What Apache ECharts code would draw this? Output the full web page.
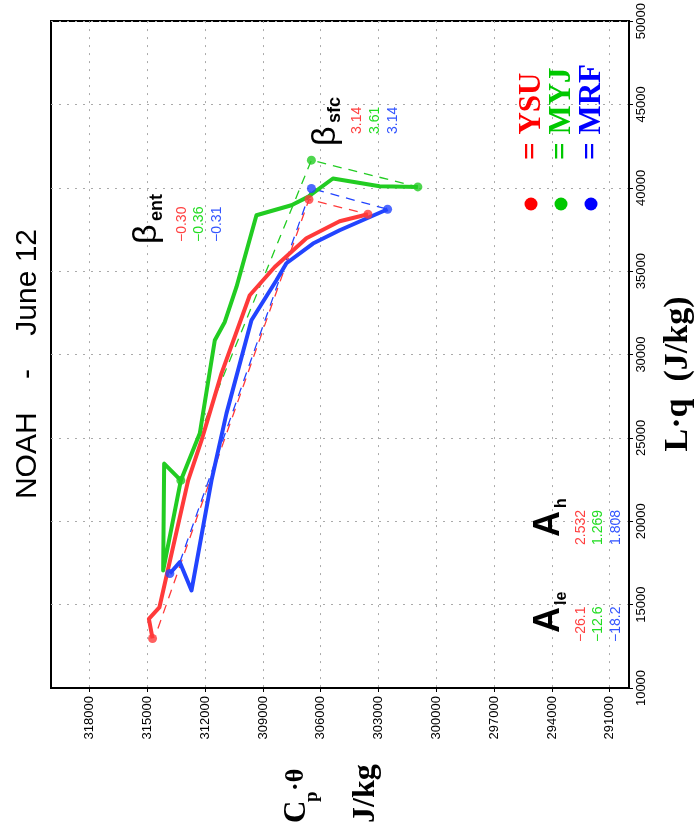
<!DOCTYPE html>
<html><head><meta charset="utf-8">
<script src="https://cdn.jsdelivr.net/npm/echarts@6/dist/echarts.min.js"></script>
<style>html,body{margin:0;padding:0;background:#fff}#c{width:695px;height:835px}</style>
</head><body><div id="c"></div>
<script>
// ---- data: each point is [Cp·θ (J/kg), L·q (J/kg)] ----
const cpTicks = [291000, 294000, 297000, 300000, 303000, 306000, 309000, 312000, 315000, 318000];
const models = ['YSU', 'MYJ', 'MRF'];

const ysuThick = [[314730,12970],[314920,14150],[314375,14830],[312882,22450],[312188,24850],[311150,28870],[309684,33555],[308388,35250],[306744,36976],[305018,37996],[303551,38416]];
const ysuDash  = [[314450,13570],[306610,39300],[303551,38416]];
const ysuDots  = [[314730,12970],[306610,39300],[303551,38416]];

const myjThick = [[313261,22450],[314127,23453],[314178,17049],[313261,22450],[312276,25272],[311498,30854],[310980,31952],[310373,34053],[309337,38356],[307522,38956],[306662,39454],[305366,40559],[302945,40097],[300959,40055]];
const myjDash  = [[313261,22450],[306485,41657],[300959,40055]];
const myjDots  = [[313261,22450],[306485,41657],[300959,40055]];

const mrfThick = [[313831,16869],[313313,17547],[312706,15849],[311669,22450],[310892,26472],[309596,32054],[308300,34455],[307781,35475],[306402,36658],[305018,37456],[302530,38716]];
const mrfDash  = [[313313,17547],[306485,39959],[302530,38716]];
const mrfDots  = [[313831,16869],[306485,39959],[302530,38716]];

const betaEnt = ['\u22120.30', '\u22120.36', '\u22120.31'];
const betaSfc = ['3.14', '3.61', '3.14'];
const aH      = ['2.532', '1.269', '1.808'];
const aLe     = ['\u221226.1', '\u221212.6', '\u221218.2'];

// ---- styles ----
const lineCol = ['#ff3a3a', '#22cc22', '#2244ff'];
const textCol = ['#ff0000', '#00c800', '#0000ff'];
const valCol  = ['#ff4040', '#22dd22', '#3355ff'];
const SANS = '"Liberation Sans", Arial, Helvetica, sans-serif';
const SERIF = '"Liberation Serif", "Times New Roman", serif';

function vtext(x, y, text, font, color, align) {
  return { type: 'text', x: x, y: y, rotation: Math.PI / 2, z: 100,
    style: { text: text, font: font, fill: color,
      textAlign: align || 'left', align: align || 'left',
      textVerticalAlign: 'middle', verticalAlign: 'middle' } };
}

const graphics = [];
graphics.push(vtext(28, 364, 'NOAH    -    June 12', '30px ' + SANS, '#000', 'center'));
graphics.push(vtext(678, 374, 'L\u00b7q  (J/kg)', 'bold 34px ' + SERIF, '#000', 'center'));
graphics.push(vtext(297, 823, 'C', 'bold 31px ' + SERIF, '#000'));
graphics.push(vtext(312, 802, 'p', 'bold 19px ' + SERIF, '#000'));
graphics.push(vtext(296, 791, '\u00b7\u03b8', 'bold 26px ' + SERIF, '#000'));
graphics.push(vtext(366, 823, 'J/kg', 'bold 32px ' + SERIF, '#000'));
// legend
const legX = [532, 562, 592];
models.forEach(function (m, i) {
  graphics.push(vtext(legX[i], 160, '= ' + m, 'bold 31px ' + SERIF, textCol[i]));
  graphics.push({ type: 'circle', shape: { cx: legX[i] - 1, cy: 204, r: 6.5 }, style: { fill: textCol[i] }, z: 100 });
});
// beta_ent
graphics.push(vtext(147, 244, '\u03b2', '34px ' + SANS, '#000'));
graphics.push(vtext(157, 221, 'ent', 'bold 18px ' + SANS, '#000'));
[182, 199, 217].forEach(function (x, i) { graphics.push(vtext(x, 242, betaEnt[i], '14px ' + SANS, valCol[i])); });
// beta_sfc
graphics.push(vtext(326, 146, '\u03b2', '34px ' + SANS, '#000'));
graphics.push(vtext(335, 123, 'sfc', 'bold 18px ' + SANS, '#000'));
[357, 375, 393].forEach(function (x, i) { graphics.push(vtext(x, 134, betaSfc[i], '14px ' + SANS, valCol[i])); });
// A_h
graphics.push(vtext(549, 537, 'A', 'bold 36px ' + SANS, '#000'));
graphics.push(vtext(562, 508, 'h', 'bold 16px ' + SANS, '#000'));
[581, 598, 616].forEach(function (x, i) { graphics.push(vtext(x, 545, aH[i], '14px ' + SANS, valCol[i])); });
// A_le
graphics.push(vtext(549, 633, 'A', 'bold 36px ' + SANS, '#000'));
graphics.push(vtext(562, 605, 'le', 'bold 16px ' + SANS, '#000'));
[581, 598, 616].forEach(function (x, i) { graphics.push(vtext(x, 642, aLe[i], '14px ' + SANS, valCol[i])); });

function dashS(d, i) { return { type: 'line', data: d, showSymbol: false, symbol: 'none', z: 2,
  lineStyle: { color: lineCol[i], width: 1.3, type: [9, 7] } }; }
function thickS(d, i) { return { type: 'line', data: d, showSymbol: false, symbol: 'none', z: 3,
  lineStyle: { color: lineCol[i], width: 4, join: 'round' } }; }
function dotS(d, i) { return { type: 'scatter', data: d, symbolSize: 9, z: 4, itemStyle: { color: lineCol[i] } }; }

const gridLine = { show: true, lineStyle: { color: '#aaaaaa', width: 1, type: [2, 6] } };
const plain = function (v) { return String(v); };

const option = {
  animation: false,
  backgroundColor: '#fff',
  grid: { left: 51, top: 21, width: 578, height: 667, show: true, borderColor: '#000', borderWidth: 2, containLabel: false },
  xAxis: {
    type: 'value', min: 290000, max: 320000, inverse: true, position: 'bottom',
    axisLine: { show: true, onZero: false, lineStyle: { color: '#000', width: 2 } },
    axisTick: { show: true, customValues: cpTicks, length: 4, lineStyle: { color: '#000' } },
    axisLabel: { customValues: cpTicks, rotate: 90, fontSize: 13, color: '#000', margin: 8, fontFamily: SANS, formatter: plain },
    splitLine: gridLine
  },
  yAxis: {
    type: 'value', min: 10000, max: 50000, interval: 5000, position: 'right',
    axisLine: { show: true, onZero: false, lineStyle: { color: '#000', width: 2 } },
    axisTick: { show: true, length: 4, lineStyle: { color: '#000' } },
    axisLabel: { rotate: 90, fontSize: 13, color: '#000', margin: 6, fontFamily: SANS, showMinLabel: true, showMaxLabel: true, formatter: plain },
    splitLine: gridLine
  },
  series: [
    dashS(ysuDash, 0), dashS(myjDash, 1), dashS(mrfDash, 2),
    thickS(ysuThick, 0), thickS(myjThick, 1), thickS(mrfThick, 2),
    dotS(ysuDots, 0), dotS(myjDots, 1), dotS(mrfDots, 2)
  ],
  graphic: graphics
};
const chart = echarts.init(document.getElementById('c'), null, { renderer: 'canvas' });
chart.setOption(option);
</script></body></html>
